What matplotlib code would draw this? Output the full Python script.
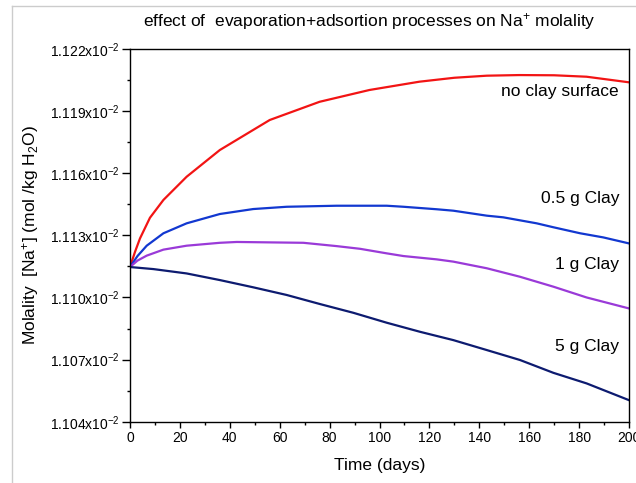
import matplotlib
matplotlib.use("Agg")
import matplotlib.pyplot as plt
from matplotlib.ticker import MultipleLocator, FuncFormatter
from matplotlib.lines import Line2D

plt.rcParams["font.family"] = ["Liberation Sans", "DejaVu Sans"]
plt.rcParams["mathtext.fontset"] = "custom"
plt.rcParams["mathtext.rm"] = "Liberation Sans"
plt.rcParams["mathtext.it"] = "Liberation Sans:italic"
plt.rcParams["mathtext.bf"] = "Liberation Sans:bold"

# Na+ molality, in units of 1e-2 mol/kg H2O
days_noclay = [0, 2, 4, 8, 13.4, 22.7, 36, 56, 76, 96, 116, 130, 143, 156, 170, 183, 200]
na_noclay = [1.11147, 1.11220, 1.11285, 1.11385, 1.11471, 1.11583, 1.11712, 1.11857,
             1.11945, 1.12002, 1.12042, 1.12061, 1.12071, 1.12074, 1.12073, 1.12066,
             1.12039]

days_05g = [0, 3, 6.7, 13.4, 22.7, 36, 49.4, 62.8, 82.8, 102.9, 109.6, 122.9, 129.6,
            143, 149.6, 163, 169.7, 180.4, 189.7, 200]
na_05g = [1.11147, 1.11200, 1.11250, 1.11310, 1.11358, 1.11403, 1.11427, 1.11438,
          1.11443, 1.11443, 1.11438, 1.11426, 1.11419, 1.11395, 1.11387, 1.11358,
          1.11339, 1.11310, 1.11290, 1.11261]

days_1g = [0, 3, 6.7, 13.4, 22.7, 36, 42.8, 56, 69.5, 82.8, 92.2, 102.9, 109.6, 122.9,
           129.6, 143, 156.3, 169.7, 183, 200]
na_1g = [1.11147, 1.11178, 1.11202, 1.11231, 1.11250, 1.11264, 1.11268, 1.11266,
         1.11264, 1.11248, 1.11235, 1.11213, 1.11200, 1.11184, 1.11173, 1.11141,
         1.11100, 1.11052, 1.11000, 1.10947]

days_5g = [0, 9.4, 22.7, 36, 49.4, 62.8, 76.2, 89.5, 102.9, 116.3, 129.6, 143,
           156.3, 169.7, 183, 200]
na_5g = [1.11147, 1.11137, 1.11116, 1.11084, 1.11049, 1.11012, 1.10968, 1.10926,
         1.10878, 1.10834, 1.10794, 1.10746, 1.10698, 1.10636, 1.10585, 1.10504]

labels = ["no clay surface", "0.5 g Clay", "1 g Clay", "5 g Clay"]
label_y = [1.11994, 1.11480, 1.11157, 1.10762]
colors = ["#f21414", "#1238d0", "#9a3ad8", "#0d1b70"]


def main():
    fig = plt.figure(figsize=(6.36, 4.83), dpi=100)
    ax = fig.add_axes([0.2044, 0.1269, 0.7846, 0.7717])

    series = [(days_noclay, na_noclay), (days_05g, na_05g),
              (days_1g, na_1g), (days_5g, na_5g)]
    for (d, v), c in zip(series, colors):
        ax.plot(d, v, color=c, lw=1.6, solid_joinstyle="round")

    for lab, y in zip(labels, label_y):
        ax.text(196, y, lab, ha="right", va="center", fontsize=12.5)

    ax.set_xlim(0, 200)
    ax.set_ylim(1.104, 1.122)
    ax.xaxis.set_major_locator(MultipleLocator(20))
    ax.xaxis.set_minor_locator(MultipleLocator(10))
    ax.yaxis.set_major_locator(MultipleLocator(0.003))
    ax.yaxis.set_minor_locator(MultipleLocator(0.0015))
    ax.yaxis.set_major_formatter(FuncFormatter(lambda v, p: f"{v:.3f}x10$^{{-2}}$"))
    ax.tick_params(axis="both", which="major", labelsize=10, direction="out", width=1)
    ax.tick_params(axis="x", which="major", length=4, pad=3)
    ax.tick_params(axis="y", which="major", length=5.5, pad=2)
    ax.tick_params(axis="both", which="minor", length=2.5, width=1)
    for s in ax.spines.values():
        s.set_linewidth(1)

    ax.set_xlabel("Time (days)", fontsize=12.5, labelpad=9)
    ax.set_ylabel("Molality  [Na$^{+}$] (mol /kg H$_2$O)", fontsize=12.5, labelpad=6)
    fig.text(369 / 636, 1 - 21 / 483,
             "effect of  evaporation+adsortion processes on Na$^{+}$ molality",
             ha="center", va="center", fontsize=12.5)

    # light grey screenshot border (top and left)
    fig.add_artist(Line2D([12 / 636, 12 / 636], [0, 1 - 6 / 483],
                          transform=fig.transFigure, color="#cccccc", lw=1))
    fig.add_artist(Line2D([12 / 636, 1], [1 - 6 / 483, 1 - 6 / 483],
                          transform=fig.transFigure, color="#cccccc", lw=1))

    fig.savefig("out.png", dpi=100)


if __name__ == "__main__":
    main()
